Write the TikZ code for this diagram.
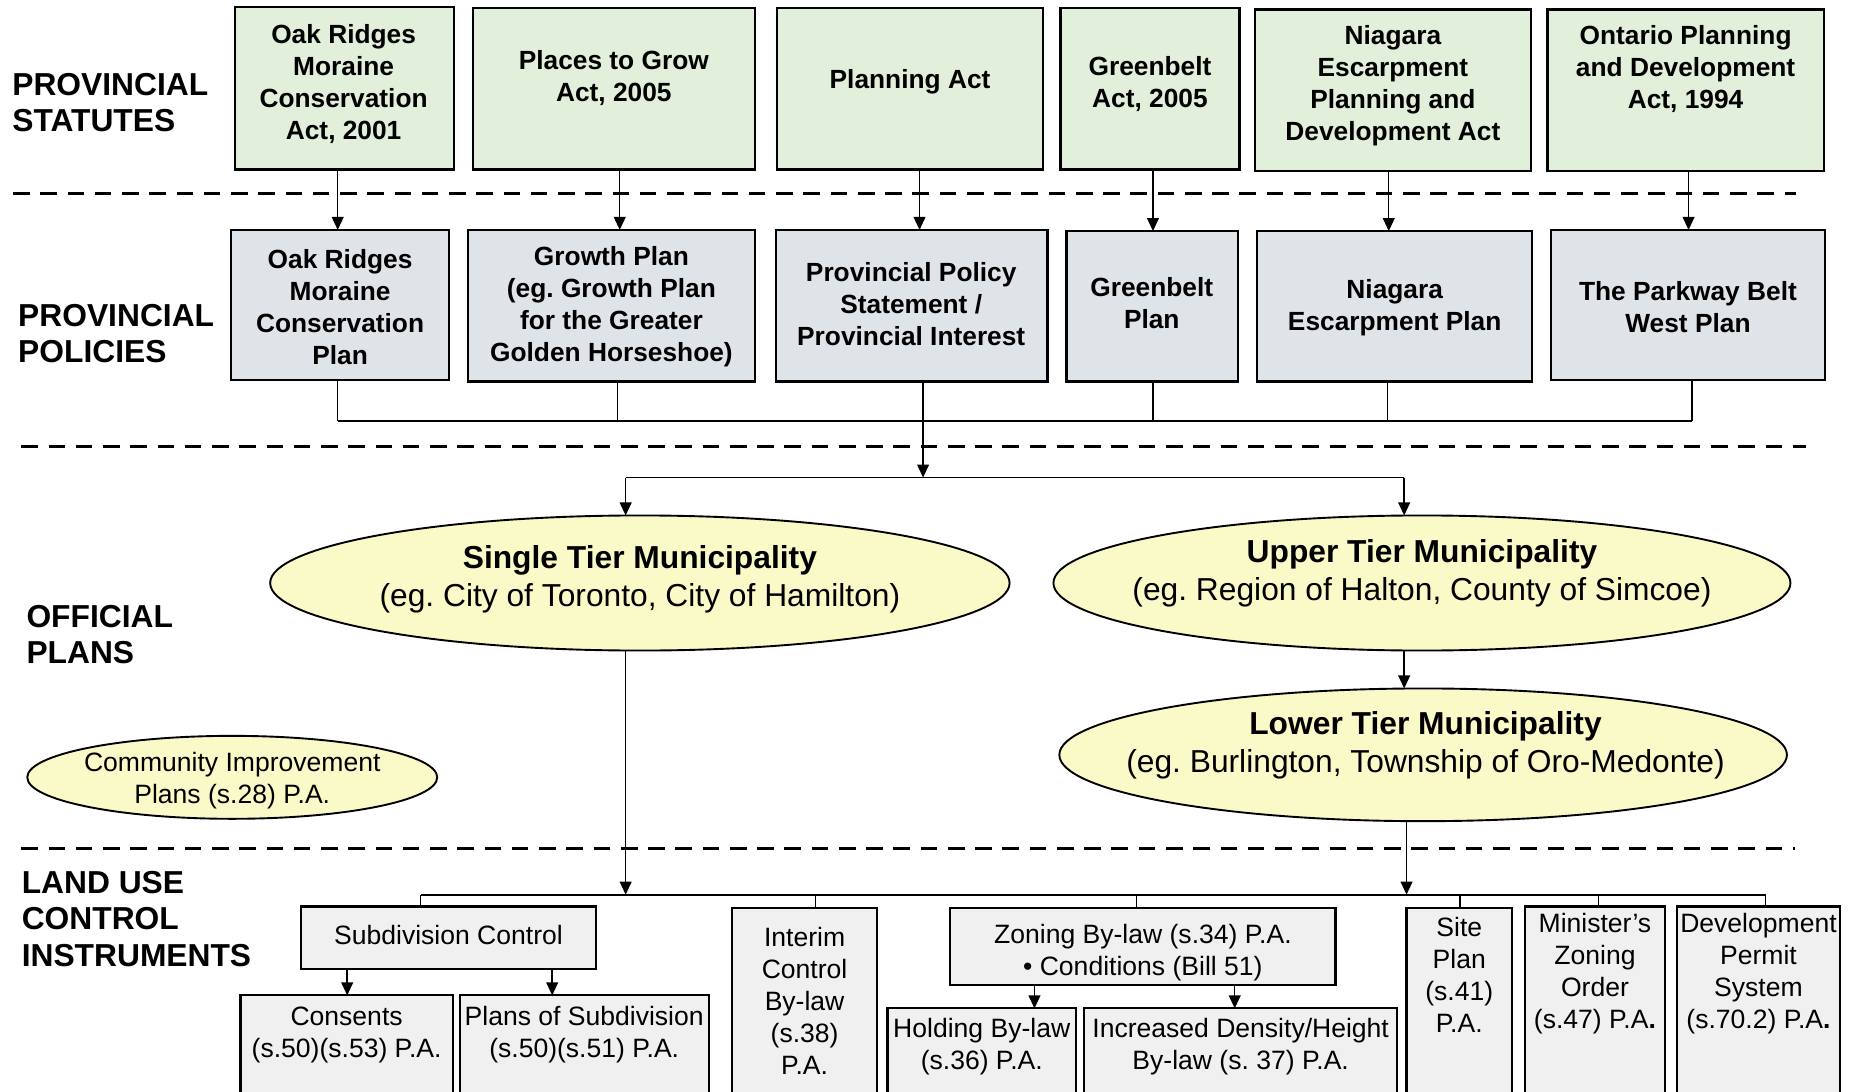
\documentclass[tikz,border=0pt]{standalone}
\usepackage{fontspec}
\setmainfont{Liberation Sans}
\usetikzlibrary{arrows.meta,shapes.geometric}
\definecolor{statgreen}{RGB}{226,239,218}
\definecolor{polgrey}{RGB}{223,228,232}
\definecolor{ellyel}{RGB}{250,250,200}
\definecolor{instgrey}{RGB}{240,240,240}
\newcommand\mkbox[6]{\node[#6, minimum width={(#4-#2)*0.5pt}, minimum height={(#5-#3)*0.5pt}] (#1) at ({(#2+#4)/2},{(#3+#5)/2}) {};}
\tikzset{
  statbox/.style={draw=black, line width=0.9pt, fill=statgreen, inner sep=0pt, outer sep=0pt},
  polbox/.style={draw=black, line width=0.9pt, fill=polgrey, inner sep=0pt, outer sep=0pt},
  instbox/.style={draw=black, line width=0.9pt, fill=instgrey, inner sep=0pt, outer sep=0pt},
  muni/.style={ellipse, draw=black, line width=0.8pt, fill=ellyel, inner sep=0pt, outer sep=0pt},
  btxt/.style={font=\fontsize{11.1}{13.5}\selectfont\bfseries, align=center, inner sep=0pt},
  rtxt/.style={font=\fontsize{11.2}{13.5}\selectfont, align=center, inner sep=0pt},
  etxt/.style={font=\fontsize{13.4}{16}\selectfont, align=center, inner sep=0pt},
  sect/.style={font=\fontsize{13.4}{15.5}\selectfont\bfseries, align=left, anchor=west, inner sep=0pt},
  conn/.style={line width=0.6pt},
  bus/.style={line width=0.9pt},
  arr/.style={line width=0.6pt, -{Triangle[length=5.5pt,width=5pt]}},
  divider/.style={line width=1.3pt, dash pattern=on 7pt off 4.5pt},
}
\frenchspacing
\begin{document}
\frenchspacing
\begin{tikzpicture}[x=0.5pt,y=-0.5pt]
\useasboundingbox (0,0) rectangle (1568,921);
\clip (0,0) rectangle (1568,921);
\fill[white] (0,0) rectangle (1568,921);

% section labels
\node[sect] (lblStat) at (10,86.5) {PROVINCIAL\\STATUTES};
\node[sect] (lblPol) at (15,281.5) {PROVINCIAL\\POLICIES};
\node[sect] (lblOP) at (22,535.5) {OFFICIAL\\PLANS};
\node[sect] (lblLU) at (18,775.5) {LAND USE\\CONTROL\\INSTRUMENTS};

% dividers
\draw[divider] (11,163) -- (1516,163);
\draw[divider] (18,377) -- (1524,377);
\draw[divider] (18,716) -- (1515,716);

% provincial statutes
\mkbox{S1}{198}{6}{383}{143}{statbox}
\mkbox{S2}{399}{7}{637}{143}{statbox}
\mkbox{S3}{656}{7}{880}{143}{statbox}
\mkbox{S4}{895}{7}{1046}{143}{statbox}
\mkbox{S5}{1059}{8}{1292}{144}{statbox}
\mkbox{S6}{1306}{8}{1539}{144}{statbox}
\node[btxt] (S1t) at (290,71) {Oak Ridges\\Moraine\\Conservation\\Act, 2001};
\node[btxt] (S2t) at (518,65.5) {Places to Grow\\Act, 2005};
\node[btxt] (S3t) at (768,69) {Planning Act};
\node[btxt] (S4t) at (970.5,71) {Greenbelt\\Act, 2005};
\node[btxt] (S5t) at (1175.5,72) {Niagara\\Escarpment\\Planning and\\Development Act};
\node[btxt] (S6t) at (1422.5,58.5) {Ontario Planning\\and Development\\Act, 1994};

% provincial policies
\mkbox{P1}{195}{194}{379}{321}{polbox}
\mkbox{P2}{395}{194}{637}{322}{polbox}
\mkbox{P3}{655}{194}{884}{322}{polbox}
\mkbox{P4}{900}{195}{1045}{322}{polbox}
\mkbox{P5}{1061}{195}{1293}{322}{polbox}
\mkbox{P6}{1309}{194}{1540}{321}{polbox}
\node[btxt] (P1t) at (287,259) {Oak Ridges\\Moraine\\Conservation\\Plan};
\node[btxt] (P2t) at (516,259) {Growth Plan\\(eg. Growth Plan\\for the Greater\\Golden Horseshoe)};
\node[btxt] (P3t) at (769,257) {Provincial Policy\\Statement /\\Provincial Interest};
\node[btxt] (P4t) at (972,255.5) {Greenbelt\\Plan};
\node[btxt] (P5t) at (1177,260) {Niagara\\Escarpment Plan};
\node[btxt] (P6t) at (1424.5,259.5) {The Parkway Belt\\West Plan};

% statute -> policy arrows
\coordinate (x1) at (285,0);
\coordinate (x2) at (523,0);
\coordinate (x3) at (776,0);
\coordinate (x4) at (973,0);
\coordinate (x5) at (1172,0);
\coordinate (x6) at (1425,0);
\draw[arr] (S1.south -| x1) -- (P1.north -| x1);
\draw[arr] (S2.south -| x2) -- (P2.north -| x2);
\draw[arr] (S3.south -| x3) -- (P3.north -| x3);
\draw[arr] (S4.south -| x4) -- (P4.north -| x4);
\draw[arr] (S5.south -| x5) -- (P5.north -| x5);
\draw[arr] (S6.south -| x6) -- (P6.north -| x6);

% policy bus
\coordinate (bus1) at (779,355);
\coordinate (q1) at (285,0);
\coordinate (q2) at (521,0);
\coordinate (q4) at (973,0);
\coordinate (q5) at (1171,0);
\coordinate (q6) at (1428,0);
\draw[conn] (P1.south -| q1) -- (bus1 -| q1);
\draw[conn] (P2.south -| q2) -- (bus1 -| q2);
\draw[conn] (P3.south -| bus1) -- (bus1);
\draw[conn] (P4.south -| q4) -- (bus1 -| q4);
\draw[conn] (P5.south -| q5) -- (bus1 -| q5);
\draw[conn] (P6.south -| q6) -- (bus1 -| q6);
\draw[bus] (bus1 -| q1) -- (bus1 -| q6);

% municipalities
\node[muni, minimum width=312pt, minimum height=57pt] (single) at (540,492) {};
\node[muni, minimum width=311pt, minimum height=57pt] (upper) at (1200,492) {};
\node[muni, minimum width=307pt, minimum height=56pt] (lower) at (1201,637) {};
\node[muni, minimum width=173pt, minimum height=35pt] (cip) at (196,656) {};
\node[etxt] (singlet) at (540,489) {{\bfseries Single Tier Municipality}\\(eg. City of Toronto, City of Hamilton)};
\node[etxt] (uppert) at (1200,484) {{\bfseries Upper Tier Municipality}\\(eg. Region of Halton, County of Simcoe)};
\node[etxt] (lowert) at (1203,629) {{\bfseries Lower Tier Municipality}\\(eg. Burlington, Township of Oro-Medonte)};
\node[rtxt] (cipt) at (196,658.5) {Community Improvement\\Plans (s.28) P.A.};

\coordinate (split) at (779,403);
\coordinate (sA) at (528,403);
\coordinate (uA) at (1185,403);
\draw[arr] (bus1) -- (split);
\draw[conn] (sA) -- (uA);
\draw[arr] (sA) -- (sA |- single.north);
\draw[arr] (uA) -- (uA |- upper.north);
\draw[arr] (uA |- upper.south) -- (uA |- lower.north);

% land use control instruments
\mkbox{subd}{254}{765}{503}{818}{instbox}
\mkbox{cons}{203}{840}{382}{960}{instbox}
\mkbox{plans}{388}{840}{598}{960}{instbox}
\mkbox{interim}{618}{766}{740}{960}{instbox}
\mkbox{zoning}{802}{766}{1127}{831}{instbox}
\mkbox{holding}{749}{851}{908}{960}{instbox}
\mkbox{incr}{915}{851}{1179}{960}{instbox}
\mkbox{site}{1187}{766}{1276}{960}{instbox}
\mkbox{minz}{1287}{765}{1405}{960}{instbox}
\mkbox{devp}{1415}{765}{1553}{960}{instbox}

\node[rtxt] (subdt) at (378.5,789) {Subdivision Control};
\node[rtxt] (const) at (292.5,873.5) {Consents\\(s.50)(s.53) P.A.};
\node[rtxt] (planst) at (493,873.5) {Plans of Subdivision\\(s.50)(s.51) P.A.};
\node[rtxt] (interimt) at (679,845) {Interim\\Control\\By-law\\(s.38)\\P.A.};
\node[rtxt] (zoningt) at (964.5,804) {Zoning By-law (s.34) P.A.\\• Conditions (Bill 51)};
\node[rtxt] (holdingt) at (828.5,883.5) {Holding By-law\\(s.36) P.A.};
\node[rtxt] (incrt) at (1047,883.5) {Increased Density/Height\\By-law (s. 37) P.A.};
\node[rtxt] (sitet) at (1231.5,823) {Site\\Plan\\(s.41)\\P.A.};
\node[rtxt] (minzt) at (1346,821.5) {Minister’s\\Zoning\\Order\\(s.47) P.A\textbf{.}};
\node[rtxt] (devpt) at (1484,821.5) {Development\\Permit\\System\\(s.70.2) P.A\textbf{.}};

% bus 2
\coordinate (bus2) at (528,755);
\coordinate (aL) at (1187,755);
\coordinate (dSub) at (355,755);
\coordinate (dInt) at (688,755);
\coordinate (dZon) at (959,755);
\coordinate (dSite) at (1232,755);
\coordinate (dMin) at (1349,755);
\coordinate (dDev) at (1490,755);
\draw[arr] (bus2 |- single.south) -- (bus2);
\draw[arr] (aL |- lower.south) -- (aL);
\draw[bus] (dSub) -- (dDev);
\draw[conn] (dSub) -- (dSub |- subd.north);
\draw[conn] (dInt) -- (dInt |- interim.north);
\draw[conn] (dZon) -- (dZon |- zoning.north);
\draw[conn] (dSite) -- (dSite |- site.north);
\draw[conn] (dMin) -- (dMin |- minz.north);
\draw[conn] (dDev) -- (dDev |- devp.north);

\coordinate (c1) at (293,0);
\coordinate (c2) at (466,0);
\coordinate (z1) at (873,0);
\coordinate (z2) at (1042,0);
\draw[arr] (subd.south -| c1) -- (cons.north -| c1);
\draw[arr] (subd.south -| c2) -- (plans.north -| c2);
\draw[arr] (zoning.south -| z1) -- (holding.north -| z1);
\draw[arr] (zoning.south -| z2) -- (incr.north -| z2);
\end{tikzpicture}
\end{document}
